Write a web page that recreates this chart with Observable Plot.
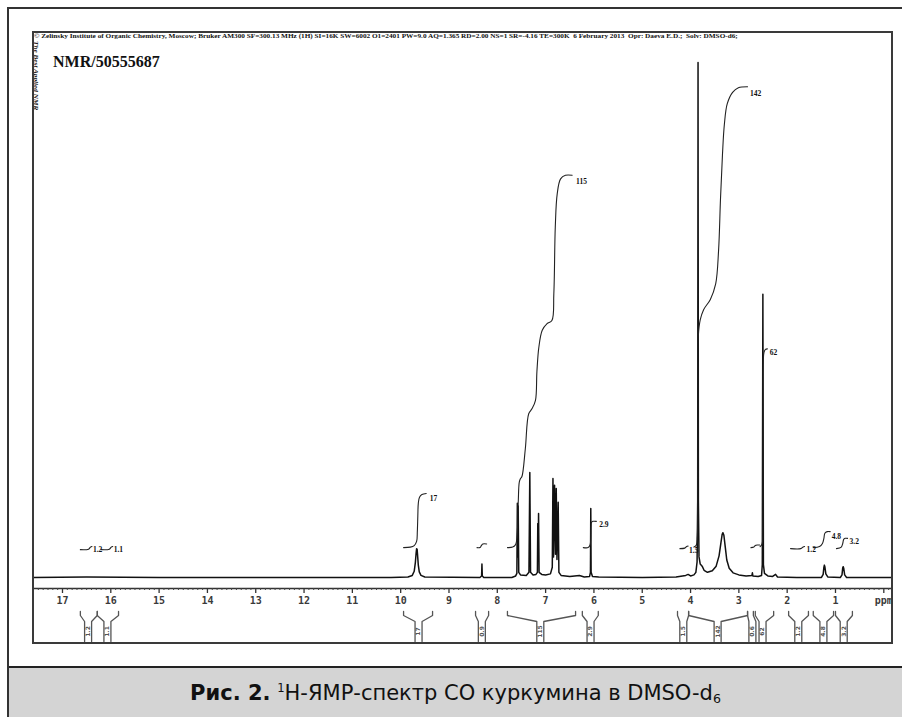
<!DOCTYPE html>
<html><head><meta charset="utf-8">
<script src="https://cdn.jsdelivr.net/npm/d3@7"></script>
<script src="https://cdn.jsdelivr.net/npm/@observablehq/plot@0.6"></script>
<style>
body{margin:0;width:902px;height:717px;position:relative;overflow:hidden;background:#fff;}
.abs{position:absolute;}
#outer{left:7px;top:7px;width:910px;height:730px;box-sizing:border-box;border:2px solid #333;}
#frame{left:32px;top:31px;width:861px;height:613px;box-sizing:border-box;border:2px solid #3a3a3a;pointer-events:none;}
#hdr{left:34px;top:32px;white-space:nowrap;font:bold 6.5px "Liberation Serif",serif;color:#111;transform-origin:0 0;line-height:7px;}
#title{left:53px;top:53px;font:bold 16px "Liberation Serif",serif;color:#111;white-space:nowrap;}
#side{left:33px;top:41px;writing-mode:vertical-rl;font:italic bold 6px "Liberation Serif",serif;color:#222;white-space:nowrap;transform-origin:0 0;}
#cap{left:9px;top:666px;width:893px;height:51px;box-sizing:border-box;background:#d4d4d4;border-top:2px solid #222;display:flex;align-items:center;justify-content:center;}
#capt{font-family:"DejaVu Sans",sans-serif;font-size:18px;color:#111;white-space:nowrap;}
#capt sup{font-size:0.55em;vertical-align:0.7em;line-height:0;}
#capt sub{font-size:0.6em;vertical-align:-0.25em;line-height:0;}
</style></head>
<body>
<div id="outer" class="abs"></div>
<div id="cap" class="abs"><span id="capt"><b>Рис. 2.</b> <sup>1</sup>H-ЯМР-спектр СО куркумина в DMSO-d<sub>6</sub></span></div>
<div id="spec" class="abs" style="left:33px;top:32px"></div>
<div id="brk" class="abs" style="left:33px;top:607px"></div>
<div id="hdr" class="abs">© Zelinsky Institute of Organic Chemistry, Moscow; Bruker AM300 SF=300.13 MHz (1H) SI=16K SW=6002 O1=2401 PW=9.0 AQ=1.365 RD=2.00 NS=1 SR=-4.16 TE=300K &nbsp;6 February 2013 &nbsp;Opr: Daeva E.D.; &nbsp;Solv: DMSO-d6;</div>
<div id="title" class="abs">NMR/50555687</div>
<div id="side" class="abs">The Best Applied NMR</div>
<div id="frame" class="abs"></div>
<script>
// ---- data ----
const majorTicks = [17,16,15,14,13,12,11,10,9,8,7,6,5,4,3,2,1,0];
const xDomain = [17.60, -0.18];
const yDomain = [-2.14, 100];

// spectrum points [ppm, intensity]
const spectrum = [
 [17.60,0],[16.5,0.1],[15,0],[12,0],[10.2,0],[9.85,0.1],
 [9.76,0.4],[9.72,1.2],[9.695,3],[9.68,4.8],[9.67,5.6],[9.66,5.5],[9.65,4.3],[9.635,2.4],[9.615,1.1],[9.58,0.4],[9.5,0.1],
 [8.36,0],[8.325,0.3],[8.318,2.6],[8.310,0.3],[8.28,0],
 [7.70,0],[7.62,0.3],[7.595,0.8],[7.585,14.4],[7.578,4],[7.568,13.9],[7.556,1],[7.52,0.5],[7.40,0.4],[7.345,1],[7.327,20.4],[7.312,1],[7.26,0.5],[7.20,0.6],[7.17,1],[7.162,10.5],[7.155,4],[7.146,12.4],[7.135,1],[7.08,0.6],[7.00,0.5],[6.90,0.7],[6.862,2],[6.848,19.2],[6.835,4],[6.815,17.9],[6.795,4.5],[6.78,17.3],[6.765,3.5],[6.74,14.6],[6.725,1],[6.68,0.4],[6.5,0.2],[6.3,0.4],[6.2,0.1],
 [6.09,0.2],[6.072,1],[6.065,13.4],[6.058,1],[6.03,0.2],[5.9,0.1],[5.0,0],[4.3,0.1],[4.1,0.4],[4.05,0.6],[4.0,0.3],[3.93,0.5],
 [3.89,1],[3.865,3],[3.852,15],[3.845,100],[3.838,15],[3.825,4],[3.80,2.6],[3.76,2.2],[3.72,1.4],[3.65,1.0],[3.55,1.3],[3.47,2.2],[3.41,4.2],[3.37,6.8],[3.345,8.4],[3.33,8.7],[3.31,8.2],[3.28,5.8],[3.25,3.4],[3.20,1.8],[3.12,0.9],[3.0,0.5],[2.85,0.3],
 [2.73,0.4],[2.72,0.9],[2.71,0.3],[2.6,0.2],[2.53,0.4],[2.515,2.5],[2.503,55],[2.492,2.5],[2.47,0.8],[2.40,0.3],[2.3,0.2],[2.24,0.6],[2.2,0.1],[1.8,0],
 [1.29,0],[1.255,0.6],[1.24,2.0],[1.23,2.4],[1.22,2.1],[1.20,0.7],[1.16,0.1],
 [0.90,0],[0.865,0.5],[0.85,1.9],[0.84,2.1],[0.83,1.8],[0.81,0.5],[0.77,0],[-0.18,0]
];

// integral curves [ppm, level]
const int16a = [[16.63,5.4],[16.46,5.5],[16.42,5.9],[16.39,6.0]];
const int16b = [[16.20,5.4],[16.03,5.5],[15.99,5.9],[15.96,6.0]];
const int17  = [[9.94,5.8],[9.80,5.9],[9.72,6.2],[9.67,7],[9.655,9],[9.645,12],[9.635,14.4],[9.61,15.6],[9.56,16.1],[9.47,16.3]];
const int832 = [[8.42,5.8],[8.36,5.8],[8.33,6.2],[8.30,6.5],[8.22,6.5]];
const int115 = [[7.79,5.8],[7.68,5.9],[7.62,6.4],[7.585,9],[7.565,15],[7.545,18.5],[7.52,19.2],[7.49,19.6],[7.42,25],[7.35,31.8],[7.28,32.8],[7.21,34.4],[7.18,40],[7.14,44.7],[7.07,48],[6.97,49.3],[6.87,49.9],[6.83,55.1],[6.80,68],[6.76,74.5],[6.69,77.4],[6.59,78.1],[6.45,78.1]];
const int29  = [[6.22,5.8],[6.12,5.8],[6.08,6.3],[6.065,8],[6.06,10],[6.05,10.7],[6.02,10.9],[5.95,10.9]];
const int15  = [[4.22,5.6],[4.12,5.7],[4.08,6.0],[4.05,6.1]];
const int142 = [[3.93,5.9],[3.88,6.3],[3.86,8],[3.85,20],[3.845,35],[3.84,46.8],[3.80,50],[3.73,52],[3.59,54],[3.48,57],[3.42,63.5],[3.38,73.6],[3.34,82],[3.30,88],[3.24,92],[3.13,94.2],[3.01,95.1],[2.82,95.3]];
const int27  = [[2.75,5.8],[2.69,5.9],[2.66,6.2],[2.62,6.3],[2.57,6.3]];
const int62  = [[2.56,6.0],[2.52,6.5],[2.505,10],[2.50,30],[2.495,42],[2.48,43.7],[2.45,44.3],[2.41,44.4]];
const int12  = [[1.93,5.6],[1.72,5.6],[1.67,5.9],[1.64,6.0]];
const int48  = [[1.46,5.8],[1.33,6.0],[1.27,6.6],[1.24,7.6],[1.22,8.6],[1.17,8.9],[1.11,8.9]];
const int32  = [[0.98,5.6],[0.88,5.9],[0.85,6.6],[0.83,7.4],[0.80,7.6],[0.75,7.6]];

const labelText = ["1.2","1.1","17","115","2.9","1.5","142","62","1.2","4.8","3.2"];
const labelPpm  = [16.37,15.94,9.40,6.37,5.89,4.03,2.77,2.36,1.60,1.08,0.71];
const labelLevel= [5.5,5.5,15.4,76.8,10.2,5.3,94.0,43.6,5.4,8.0,7.0];

// integral region brackets under the axis
const bracketFrom = [16.63,16.28,9.94,8.45,7.79,6.24,4.27,4.04,2.82,2.66,1.97,1.46,1.00];
const bracketTo   = [16.28,15.84,9.34,8.18,6.38,5.91,4.04,2.82,2.70,2.28,1.56,1.04,0.65];
const bracketStem = [16.47,16.07,9.63,8.32,7.11,6.07,4.15,3.44,2.72,2.51,1.77,1.25,0.83];
const bracketText = ["1.2","1.1","17","0.9","115","2.9","1.5","142","0.6","62","1.2","4.8","3.2"];

// ---- build ----
const W = 859;
const minorTicks = d3.range(-1, 176).map(i => i / 10).filter(v => Math.abs(v - Math.round(v)) > 1e-6);
const intCurves = [int16a,int16b,int17,int832,int115,int29,int15,int142,int27,int62,int12,int48,int32];
const intRows = intCurves.flatMap((c, id) => c.map(([ppm, u]) => ({id, ppm, u})));
const labels = labelText.map((t, i) => ({t, ppm: labelPpm[i], u: labelLevel[i]}));

const spec = Plot.plot({
  width: W, height: 580,
  marginLeft: 0, marginRight: 0, marginTop: 30, marginBottom: 24,
  style: {background: "transparent", overflow: "hidden"},
  x: {domain: xDomain, label: null},
  y: {domain: yDomain, axis: null},
  marks: [
    Plot.ruleY([yDomain[0]], {stroke: "#333", strokeWidth: 1.6}),
    Plot.axisX(minorTicks, {tickSize: 2, fill: "none", label: null, stroke: "#444"}),
    Plot.axisX(majorTicks, {tickSize: 5, tickPadding: 3, stroke: "#333", strokeWidth: 1.3, label: null,
      tickFormat: d => d === 0 ? "ppm" : String(d),
      fontSize: 10, fontFamily: "DejaVu Sans Mono", fontWeight: "bold", fill: "#3a3a3a"}),
    Plot.line(spectrum, {x: d => d[0], y: d => d[1], stroke: "#111", strokeWidth: 1.5}),
    Plot.line(intRows, {x: "ppm", y: "u", z: "id", stroke: "#222", strokeWidth: 1.1, curve: "catmull-rom"}),
    Plot.text(labels, {x: "ppm", y: "u", text: "t", textAnchor: "start", fontSize: 7.5,
      fontFamily: "Liberation Serif", fontWeight: "bold", fill: "#111"})
  ]
});
document.getElementById("spec").appendChild(spec);

// bracket template levels (px from the top of the strip)
const armTop = 4, armKnee = 8, junction = 14, stemBottom = 34;
const half = 3.5 * (xDomain[0] - xDomain[1]) / W;
const brRows = [];
bracketFrom.forEach((f, i) => {
  const t = bracketTo[i], s = bracketStem[i];
  [[f, s + half, "L"], [t, s - half, "R"]].forEach(([end, sx, side]) => {
    const id = i + side;
    brRows.push({id, ppm: end, y: armTop}, {id, ppm: end, y: armKnee},
                {id, ppm: sx, y: junction}, {id, ppm: sx, y: stemBottom});
  });
});
const brText = bracketText.map((t, i) => ({t, ppm: bracketStem[i]}));
const brk = Plot.plot({
  width: W, height: 36,
  marginLeft: 0, marginRight: 0, marginTop: 0, marginBottom: 0,
  style: {background: "transparent"},
  x: {domain: xDomain, axis: null},
  y: {domain: [0, 36], range: [0, 36], axis: null},
  marks: [
    Plot.line(brRows, {x: "ppm", y: "y", z: "id", stroke: "#555", strokeWidth: 1.3}),
    Plot.text(brText, {x: "ppm", y: (junction + stemBottom) / 2, text: "t", rotate: -90,
      fontSize: 6, fontFamily: "DejaVu Sans", fontWeight: "bold", fill: "#555"})
  ]
});
document.getElementById("brk").appendChild(brk);

// fit header line, side text and caption widths
const hdr = document.getElementById("hdr");
hdr.style.transform = `scaleX(${704 / hdr.offsetWidth})`;
const side = document.getElementById("side");
side.style.transform = `scaleY(${69 / side.offsetHeight})`;
const capt = document.getElementById("capt");
capt.style.fontSize = (18 * 531 / capt.offsetWidth).toFixed(2) + "px";
</script>
</body></html>
